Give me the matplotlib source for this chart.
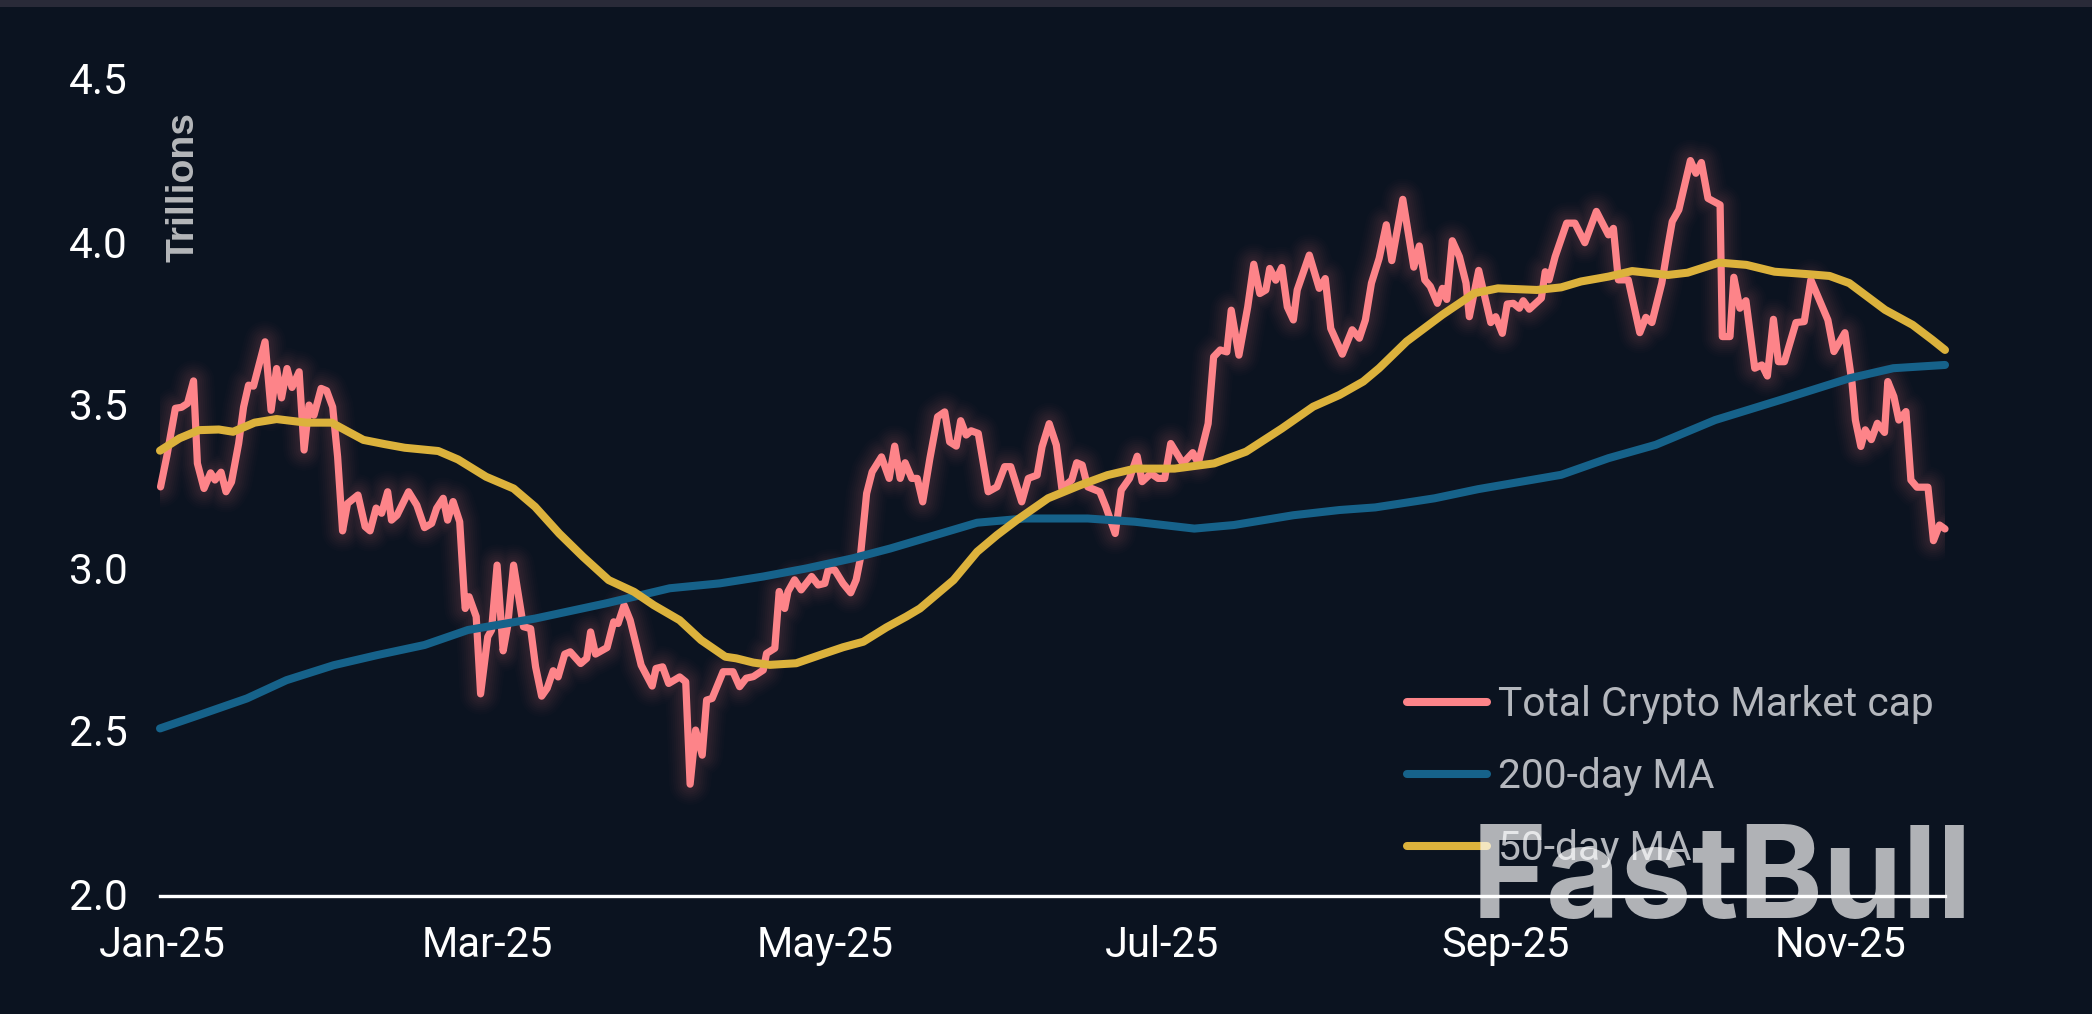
import matplotlib
matplotlib.use("Agg")
import matplotlib.pyplot as plt
from matplotlib.patches import Rectangle
from matplotlib.transforms import ScaledTranslation

cap_days = [0.1,1.25,2.8,3.9,5,6.1,6.8,8,9.2,10,11.1,12,13,14.3,15.2,16.1,17,19.1,20.2,21.2,22.1,23.1,24,25.3,26.2,27.1,28,29.3,30.3,31.4,32.3,33.2,34.1,36,37.3,38.2,39.3,40.3,41.4,42.1,43.1,45.2,46.7,48.1,49.4,50.3,51.5,52.3,53.3,54.5,55.3,55.5,56.2,57.5,58.3,59.6,60.3,61.3,62.4,63.2,64.3,66.1,67.4,68.3,69.4,70.4,71.5,72.4,73.6,74.6,76.5,77.6,78.3,79.2,81.3,82.5,83.3,84.4,85.5,87.5,89.5,90.2,91.4,92.5,94.5,95.6,96.4,97.4,98.6,99.4,100.4,102.4,104.2,105.4,106.6,107.9,109.7,110.3,111.8,112.6,113.6,114.2,115.4,116.6,118.5,119.7,120.9,121.5,122.7,124.2,125.6,126.6,127.3,128.5,129.5,131.2,132.6,133.6,134.6,135.5,136.7,137.7,138.7,140,141.4,142.7,143.6,144.8,145.6,146.6,147.5,148.8,150.6,152.2,153.6,154.7,156.7,157.9,159.5,160.4,161.7,163,164,165.8,166.7,167.7,168.7,170.9,172,173.7,174.8,176.3,177.7,178.6,180.2,181.5,182.7,183.8,186,187.8,188.8,190.6,191.6,192.8,194,194.8,196.2,197.8,198.9,200,201.1,201.8,202.9,204,205,206.1,206.8,209,210.8,211.9,212.9,215,216.8,218.1,219.2,220.3,221.7,223,224,226,228,229,230,231,232.3,233.2,234,235,236.3,237.5,238.1,239.8,242,242.9,244.1,245,246.1,247.2,247.9,249,251.2,251.9,252.6,253.7,255.8,257.3,259.1,261.2,263.4,264.3,265.2,267,269.1,270.2,271.3,273.1,274.2,275,276.2,278.3,279.3,280.3,281.5,283.7,284.1,285.5,286.2,287.3,288.4,290,291.3,292.3,293.4,294.3,295.4,297.5,299,300.2,303.3,304.4,306.4,307.7,308.3,309.3,310.1,311.2,312.3,313.6,314.2,315.3,316.2,317.5,318.4,319.5,321.5,322.5,323.6,324.6]
cap_vals = [3.255,3.35,3.496,3.499,3.511,3.58,3.327,3.25,3.298,3.276,3.30,3.24,3.27,3.388,3.50,3.567,3.564,3.70,3.49,3.618,3.528,3.618,3.56,3.608,3.368,3.506,3.475,3.557,3.55,3.50,3.347,3.12,3.204,3.23,3.133,3.12,3.19,3.174,3.24,3.153,3.168,3.24,3.199,3.13,3.143,3.189,3.22,3.153,3.21,3.148,2.928,2.882,2.918,2.857,2.62,2.795,2.816,3.015,2.752,2.826,3.015,2.826,2.82,2.703,2.613,2.637,2.691,2.672,2.742,2.749,2.713,2.729,2.81,2.742,2.762,2.841,2.836,2.892,2.846,2.708,2.644,2.698,2.703,2.652,2.672,2.657,2.343,2.509,2.432,2.601,2.606,2.688,2.688,2.642,2.668,2.673,2.693,2.744,2.76,2.934,2.882,2.934,2.97,2.939,2.98,2.954,2.959,3.0,3.0,2.959,2.93,2.97,3.03,3.235,3.301,3.347,3.281,3.38,3.281,3.329,3.281,3.281,3.209,3.342,3.47,3.485,3.393,3.38,3.458,3.414,3.427,3.419,3.24,3.255,3.317,3.317,3.209,3.281,3.291,3.378,3.449,3.383,3.25,3.276,3.329,3.322,3.255,3.24,3.194,3.112,3.245,3.281,3.349,3.271,3.296,3.281,3.281,3.388,3.327,3.36,3.327,3.449,3.654,3.675,3.669,3.797,3.659,3.807,3.938,3.848,3.859,3.925,3.889,3.928,3.807,3.767,3.859,3.966,3.864,3.894,3.741,3.662,3.737,3.711,3.767,3.88,3.956,4.059,3.949,4.137,3.929,3.994,3.89,3.87,3.818,3.864,3.83,4.01,3.961,3.88,3.777,3.919,3.759,3.777,3.726,3.816,3.818,3.803,3.826,3.8,3.834,3.915,3.89,3.961,4.064,4.064,4.004,4.1,4.028,4.048,3.89,3.89,3.728,3.775,3.759,3.88,3.992,4.069,4.105,4.256,4.217,4.25,4.14,4.12,3.716,3.716,3.898,3.803,3.826,3.619,3.629,3.595,3.769,3.639,3.639,3.759,3.762,3.89,3.767,3.67,3.728,3.573,3.46,3.379,3.43,3.4,3.45,3.422,3.578,3.532,3.46,3.486,3.276,3.254,3.254,3.09,3.138,3.126]

ma50_days = [0,3.55,7.1,10.7,13.3,17.2,21.2,26.6,31.2,33.7,37,40.9,44.5,50.6,54.2,59.3,64.3,68.2,72.6,76.9,81.6,86.2,89.8,94.5,98.4,102.8,104.8,107.9,110.9,115.7,120,124.2,127.9,132.1,135.7,138.2,144.3,148.6,152.2,155.8,161.5,167.3,172.3,177.3,184.5,191.7,197.5,204,209.7,214.5,218.8,221.7,226.7,233.2,239,243.3,250.4,254.8,258.4,263.4,267.7,274.2,277.8,283.5,288.5,293.6,300,303.6,307.2,313.7,318.7,322.3,324.6]
ma50_vals = [3.366,3.404,3.429,3.431,3.424,3.452,3.463,3.452,3.452,3.429,3.399,3.386,3.375,3.365,3.339,3.286,3.25,3.194,3.112,3.041,2.969,2.933,2.892,2.846,2.785,2.734,2.729,2.716,2.709,2.714,2.739,2.763,2.78,2.824,2.857,2.882,2.969,3.056,3.107,3.153,3.22,3.26,3.291,3.311,3.311,3.327,3.363,3.434,3.501,3.537,3.578,3.619,3.701,3.783,3.849,3.864,3.859,3.867,3.885,3.9,3.917,3.905,3.912,3.943,3.936,3.915,3.907,3.902,3.88,3.798,3.752,3.706,3.675]

ma200_days = [0,7.1,15.8,23,31.6,39.5,48.1,56,68.2,81.2,92.7,101.8,109.7,117.6,126,132.8,140,148.6,157.2,168.7,177.3,188.1,195.3,206.1,214.5,221,231.8,239.7,254.8,263.4,272,282.8,295.7,307.2,315.2,324.6]
ma200_vals = [2.514,2.555,2.606,2.662,2.708,2.739,2.77,2.816,2.851,2.898,2.944,2.959,2.98,3.005,3.036,3.066,3.102,3.145,3.158,3.158,3.148,3.127,3.138,3.168,3.184,3.192,3.22,3.248,3.292,3.343,3.384,3.46,3.527,3.588,3.619,3.629]

xtick_days = [0.5,59.6,120.9,182.3,244.6,305.6]
xtick_labels = ["Jan-25","Mar-25","May-25","Jul-25","Sep-25","Nov-25"]
ytick_vals = [2.0,2.5,3.0,3.5,4.0,4.5]

BG = "#0b1320"
PINK = "#fd8489"
BLUE = "#16628a"
GOLD = "#dcb23c"
W, H = 2092, 1014

fig = plt.figure(figsize=(W/100, H/100), dpi=100, facecolor=BG)
fig.add_artist(Rectangle((0, 1-7/H), 1, 7/H, transform=fig.transFigure, color="#292a38", lw=0))
ax = fig.add_axes([160/W, 1-896/H, 1785/W, 815/H], facecolor=BG)
ax.set_xlim(0, 324.6)
ax.set_ylim(2.0, 4.5)

style = dict(solid_capstyle="round", solid_joinstyle="round")
for lw, a in [(30, 0.014), (27, 0.016), (24, 0.018), (21, 0.02), (18, 0.022), (15, 0.024), (12, 0.026), (9, 0.028)]:
    ax.plot(cap_days, cap_vals, color=PINK, lw=lw, alpha=a, zorder=1, **style)
line_cap, = ax.plot(cap_days, cap_vals, color=PINK, lw=5.2, zorder=2, clip_on=False,
                    label="Total Crypto Market cap", **style)
line_200, = ax.plot(ma200_days, ma200_vals, color=BLUE, lw=5.8, zorder=3, clip_on=False,
                    label="200-day MA", **style)
line_50, = ax.plot(ma50_days, ma50_vals, color=GOLD, lw=5.8, zorder=4, clip_on=False,
                   label="50-day MA", **style)

for s in ["top", "left", "right"]:
    ax.spines[s].set_visible(False)
ax.spines["bottom"].set_color("white")
ax.spines["bottom"].set_linewidth(2.4)
ax.spines["bottom"].set_zorder(5)

ax.set_xticks(xtick_days, xtick_labels)
ax.set_yticks(ytick_vals, [f"{v:.1f}" for v in ytick_vals])
ax.tick_params(axis="x", length=0, pad=20.8, labelsize=30, labelcolor="white")
ax.tick_params(axis="y", length=0, pad=23.5, labelsize=30.5, labelcolor="white")
for t in ax.get_xticklabels() + ax.get_yticklabels():
    t.set_family("Roboto")
lift = ScaledTranslation(0, 2.5/100, fig.dpi_scale_trans)
for t in ax.get_yticklabels():
    t.set_transform(t.get_transform() + lift)

fig.text(183/W, 1-187/H, "Trillions", rotation=90, ha="center", va="center",
         family="Liberation Sans", weight="bold", fontsize=28.2, color="#b5b7ba")

leg = ax.legend(handles=[line_cap, line_200, line_50], loc="upper left",
                bbox_to_anchor=(1407/W, 1-685/H), bbox_transform=fig.transFigure,
                frameon=False, handlelength=1.97, handletextpad=0.27,
                labelspacing=0.81, borderpad=0, borderaxespad=0,
                prop={"family": "Roboto", "size": 29.3})
for t in leg.get_texts():
    t.set_color("#b4b7bd")
for h in leg.get_lines():
    h.set_linewidth(5.8)

fig.text(1472/W, 1-918/H, "FastBull", ha="left", va="baseline", family="Inter",
         weight="bold", fontsize=92, color="white", alpha=0.68, zorder=10)

fig.savefig("out.png", dpi=100, facecolor=BG)
